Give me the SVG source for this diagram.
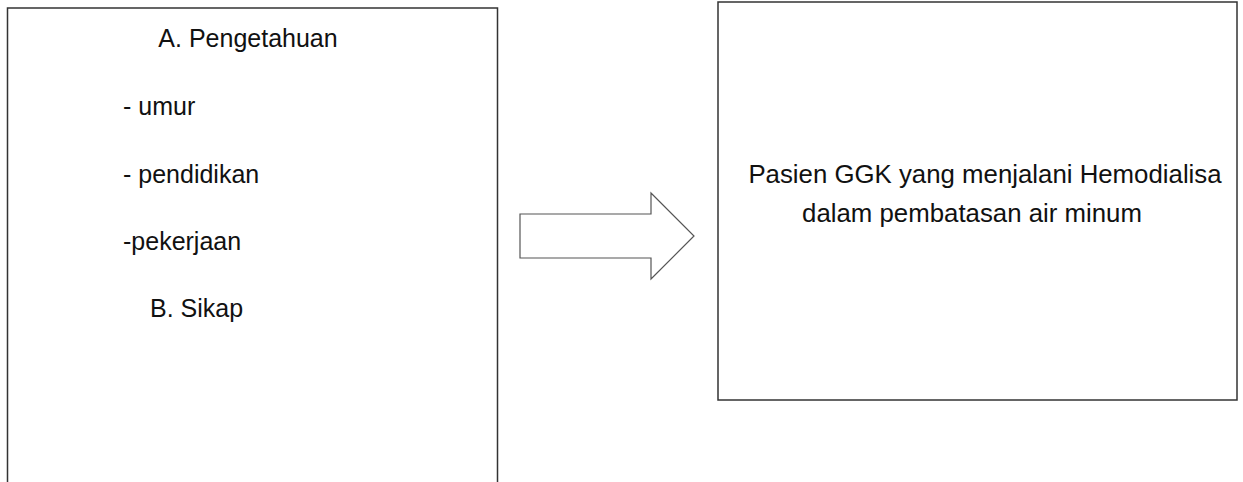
<svg xmlns="http://www.w3.org/2000/svg" width="1243" height="482" viewBox="0 0 1243 482">
<style>
.box{fill:#fff;stroke:#333;stroke-width:1.5}
.t{font-family:"Liberation Sans",Arial,sans-serif;font-size:25px;fill:#111}
.arrow{fill:#fff;stroke:#555;stroke-width:1.2}
</style>
<rect width="1243" height="482" fill="#fff"/>
<g id="node-factors">
<rect class="box" x="7.5" y="8" width="490" height="490"/>
<text class="t" x="248" y="47" text-anchor="middle">A. Pengetahuan</text>
<text class="t" x="123" y="115">- umur</text>
<text class="t" x="123" y="183">- pendidikan</text>
<text class="t" x="123" y="250">-pekerjaan</text>
<text class="t" x="150" y="317">B. Sikap</text>
</g>
<g id="connectors">
<path class="arrow" d="M520,214 L651,214 L651,193 L694,236 L651,279 L651,258 L520,258 Z"/>
</g>
<g id="node-patient">
<rect class="box" x="718" y="2" width="519" height="398"/>
<text class="t" x="985" y="183" text-anchor="middle" style="font-size:25.8px">Pasien GGK yang menjalani Hemodialisa</text>
<text class="t" x="972" y="222" text-anchor="middle" style="font-size:25.8px">dalam pembatasan air minum</text>
</g>
</svg>
